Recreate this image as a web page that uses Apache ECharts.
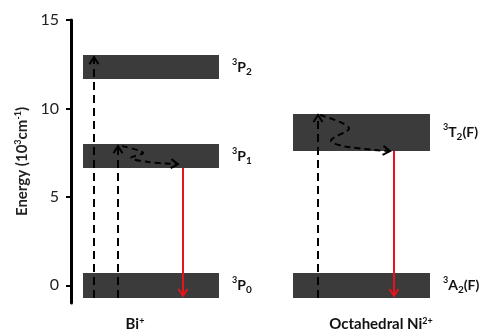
<!DOCTYPE html>
<html>
<head>
<meta charset="utf-8">
<script src="https://cdn.jsdelivr.net/npm/echarts@6/dist/echarts.min.js"></script>
<style>html,body{margin:0;padding:0;background:#fff}#c{width:488px;height:332px}</style>
</head>
<body>
<div id="c"></div>
<script>
// ---- data (energies in 10^3 cm^-1, x in arbitrary diagram units) ----
const yTicks = [0, 5, 10, 15];
const levelSup = ['3', '3', '3', '3', '3'];
const levelMain = ['P', 'P', 'P', 'T', 'A'];
const levelSub = ['2', '1', '0', '2', '2'];
const levelSuffix = ['', '', '', '(F)', '(F)'];
const levelX0 = [3, 3, 3, 55.5, 55.5];
const levelX1 = [37, 37, 37, 89.75, 89.75];
const levelLow = [11.66, 6.63, -0.72, 7.59, -0.72];
const levelHigh = [13.02, 7.99, 0.70, 9.68, 0.70];

// excitation (dashed, upward)
const excX = [5.75, 11.75, 61.75];
const excFrom = [-0.72, -0.72, -0.72];
const excTo = [12.9, 7.87, 9.63];

// non-radiative relaxation paths (dashed wiggles)
const relaxBi = [[12.75, 7.87], [18, 7.5], [15, 7.2], [19, 6.98], [26.75, 6.85]];
const relaxNi = [[62.25, 9.63], [69.5, 8.9], [65, 8.2], [68.5, 7.85], [79.75, 7.59]];

// emission (red, downward)
const emX = [28, 80.75];
const emFrom = [6.63, 7.59];
const emTo = [-0.6, -0.6];

// group names
const groupName = ['Bi', 'Octahedral Ni'];
const groupSup = ['+', '2+'];
const groupX = [16, 77.5];

const FONT = 'Lato, "Open Sans", sans-serif';

function chevron(tip, dir, color) {
  const L = 7, W = 4.5;
  const bx = tip[0] - dir[0] * L, by = tip[1] - dir[1] * L;
  const nx = -dir[1], ny = dir[0];
  return {
    type: 'polyline',
    shape: { points: [[bx + nx * W, by + ny * W], tip, [bx - nx * W, by - ny * W]] },
    style: { stroke: color, lineWidth: 2, fill: null }
  };
}
function unit(a, b) {
  const dx = b[0] - a[0], dy = b[1] - a[1];
  const l = Math.sqrt(dx * dx + dy * dy) || 1;
  return [dx / l, dy / l];
}

const levelData = levelX0.map((x, i) => [x, levelX1[i], levelLow[i], levelHigh[i], i]);
const excData = excX.map((x, i) => [x, excFrom[i], excTo[i]]);
const emData = emX.map((x, i) => [x, emFrom[i], emTo[i]]);
const relaxPaths = [relaxBi, relaxNi];
const groupData = groupX.map((x, i) => [x, -1, i]);

const chart = echarts.init(document.getElementById('c'), null, { renderer: 'canvas' });
chart.setOption({
  animation: false,
  backgroundColor: '#fff',
  grid: { left: 71, right: 17, top: 20, bottom: 29 },
  xAxis: { type: 'value', min: 0, max: 100, show: false },
  yAxis: {
    type: 'value', min: -1, max: 15,
    name: '{n|Energy (10}{s|3}{n|cm}{s|-1}{n|)}',
    nameLocation: 'middle', nameGap: 34, nameRotate: 90,
    nameTextStyle: {
      rich: {
        n: { fontFamily: FONT, fontSize: 15, fontWeight: 'bold', color: '#222', lineHeight: 16, verticalAlign: 'bottom' },
        s: { fontFamily: FONT, fontSize: 9, fontWeight: 'bold', color: '#222', lineHeight: 16, verticalAlign: 'top' }
      }
    },
    axisLine: { show: true, onZero: false, lineStyle: { color: '#000', width: 3 } },
    axisTick: { show: true, customValues: yTicks, length: 5, lineStyle: { color: '#000', width: 2 } },
    axisLabel: { customValues: yTicks, fontFamily: FONT, fontSize: 16, color: '#222', margin: 12 },
    splitLine: { show: false }
  },
  series: [
    {
      type: 'custom', data: levelData, z: 1,
      renderItem: function (params, api) {
        const i = api.value(4);
        const p0 = api.coord([api.value(0), api.value(3)]);
        const p1 = api.coord([api.value(1), api.value(2)]);
        const txt = '{s|' + levelSup[i] + '}{m|' + levelMain[i] + '}{b|' + levelSub[i] + '}' +
          (levelSuffix[i] ? '{m|' + levelSuffix[i] + '}' : '');
        return {
          type: 'group',
          children: [
            { type: 'rect', shape: { x: p0[0], y: p0[1], width: p1[0] - p0[0], height: p1[1] - p0[1] },
              style: { fill: '#3b3b3b' } },
            { type: 'text', x: p1[0] + 13, y: (p0[1] + p1[1]) / 2,
              style: {
                text: txt, align: 'left', verticalAlign: 'middle',
                rich: {
                  s: { fontFamily: FONT, fontSize: 9, fontWeight: 'bold', fill: '#111', lineHeight: 19, verticalAlign: 'top' },
                  m: { fontFamily: FONT, fontSize: 14, fontWeight: 'bold', fill: '#111', lineHeight: 19, verticalAlign: 'middle' },
                  b: { fontFamily: FONT, fontSize: 10, fontWeight: 'bold', fill: '#111', lineHeight: 19, verticalAlign: 'bottom' }
                }
              } }
          ]
        };
      }
    },
    {
      type: 'custom', data: excData, z: 3,
      renderItem: function (params, api) {
        const a = api.coord([api.value(0), api.value(1)]);
        const b = api.coord([api.value(0), api.value(2)]);
        return {
          type: 'group',
          children: [
            { type: 'line', shape: { x1: a[0], y1: a[1], x2: b[0], y2: b[1] + 1 },
              style: { stroke: '#000', lineWidth: 2, lineDash: [8, 5] } },
            chevron(b, [0, -1], '#000')
          ]
        };
      }
    },
    {
      type: 'custom', data: relaxPaths.map((p, i) => [i]), z: 3,
      renderItem: function (params, api) {
        const pts = relaxPaths[params.dataIndex].map(p => api.coord(p));
        const n = pts.length;
        return {
          type: 'group',
          children: [
            { type: 'polyline', shape: { points: pts, smooth: 0.35 },
              style: { stroke: '#000', lineWidth: 2, lineDash: [6, 4], fill: null } },
            chevron(pts[n - 1], unit(pts[n - 2], pts[n - 1]), '#000')
          ]
        };
      }
    },
    {
      type: 'custom', data: emData, z: 3,
      renderItem: function (params, api) {
        const a = api.coord([api.value(0), api.value(1)]);
        const b = api.coord([api.value(0), api.value(2)]);
        return {
          type: 'group',
          children: [
            { type: 'line', shape: { x1: a[0], y1: a[1], x2: b[0], y2: b[1] - 1 },
              style: { stroke: '#e8141b', lineWidth: 2 } },
            chevron(b, [0, 1], '#e8141b')
          ]
        };
      }
    },
    {
      type: 'custom', data: groupData, z: 3, clip: false,
      renderItem: function (params, api) {
        const i = api.value(2);
        const p = api.coord([api.value(0), api.value(1)]);
        return {
          type: 'text', x: p[0], y: p[1] + 21,
          style: {
            text: '{m|' + groupName[i] + '}{s|' + groupSup[i] + '}',
            align: 'center', verticalAlign: 'middle',
            rich: {
              m: { fontFamily: FONT, fontSize: 15, fontWeight: 'bold', fill: '#111', lineHeight: 15, verticalAlign: 'bottom' },
              s: { fontFamily: FONT, fontSize: 9, fontWeight: 'bold', fill: '#111', lineHeight: 15, verticalAlign: 'top' }
            }
          }
        };
      }
    }
  ]
});
</script>
</body>
</html>
